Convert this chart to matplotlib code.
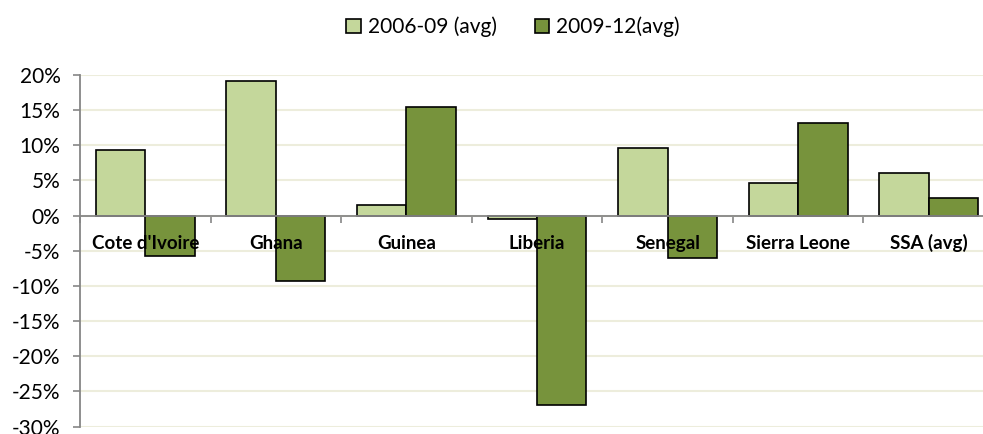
import matplotlib
matplotlib.use("Agg")

import matplotlib.pyplot as plt
import numpy as np

countries = ["Cote d'Ivoire", "Ghana", "Guinea", "Liberia", "Senegal", "Sierra Leone", "SSA (avg)"]
avg_2006_09 = [9.4, 19.2, 1.5, -0.5, 9.6, 4.6, 6.0]
avg_2009_12 = [-5.8, -9.3, 15.4, -26.9, -6.0, 13.2, 2.5]
series_names = ["2006-09 (avg)", "2009-12(avg)"]
y_ticks = [-30, -25, -20, -15, -10, -5, 0, 5, 10, 15, 20]

LIGHT = "#C4D79B"
DARK = "#77933C"
GRID = "#EDEDDC"
AXIS = "#868686"

plt.rcParams["font.family"] = ["Lato", "DejaVu Sans"]

fig = plt.figure(figsize=(9.83, 4.34), dpi=100)
ax = fig.add_axes([80 / 983, 1 - 426.5 / 434, 914 / 983, (426.5 - 75) / 434])

x = np.arange(len(countries))
w = 0.379
ax.bar(x - w / 2, avg_2006_09, w, color=LIGHT, edgecolor="black", linewidth=1.2,
       label=series_names[0], zorder=3)
ax.bar(x + w / 2, avg_2009_12, w, color=DARK, edgecolor="black", linewidth=1.2,
       label=series_names[1], zorder=3)

ax.set_xlim(-0.5, len(countries) - 0.5)
ax.set_ylim(-30, 20)
ax.set_yticks(y_ticks)
ax.set_yticklabels([f"{v}%" for v in y_ticks], fontsize=15)
ax.yaxis.grid(True, color=GRID, linewidth=1.5, zorder=0)
ax.set_axisbelow(True)

ax.spines["top"].set_visible(False)
ax.spines["right"].set_visible(False)
ax.spines["left"].set_color(AXIS)
ax.spines["left"].set_linewidth(1.3)
ax.spines["bottom"].set_position(("data", 0))
ax.spines["bottom"].set_color(AXIS)
ax.spines["bottom"].set_linewidth(1.3)
ax.spines["bottom"].set_zorder(4)

ax.set_xticks(np.arange(-0.5, len(countries), 1.0))
ax.set_xticklabels([])
ax.tick_params(axis="x", direction="out", length=5, color=AXIS, width=1.2)
ax.tick_params(axis="y", direction="out", length=5, color=AXIS, width=1.2, pad=9)

for i, name in enumerate(countries):
    ax.annotate(name, xy=(i, 0), xytext=(0, -20), textcoords="offset points",
                ha="center", va="center", fontsize=13.5, fontweight="bold", zorder=5)

fig.legend(loc="upper center", bbox_to_anchor=(0.522, 1.005), ncol=2, frameon=False,
           fontsize=15, handlelength=0.7, handleheight=0.7, handletextpad=0.35,
           columnspacing=1.8)

plt.savefig("out.png", dpi=100)
plt.close()
